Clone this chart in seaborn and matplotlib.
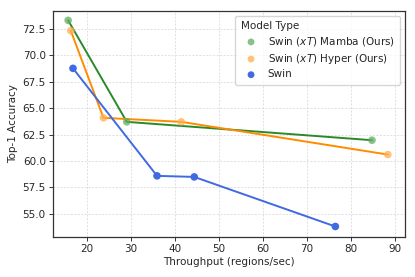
import matplotlib
matplotlib.use("Agg")
import matplotlib.pyplot as plt
import seaborn as sns
import pandas as pd

mamba_x = [15.8, 29.1, 84.7]
mamba_y = [73.32, 63.7, 61.96]
hyper_x = [16.4, 23.8, 41.45, 88.3]
hyper_y = [72.34, 64.08, 63.7, 60.6]
swin_x = [16.9, 35.96, 44.4, 76.4]
swin_y = [68.77, 58.58, 58.48, 53.78]
labels = ["Swin $(xT)$ Mamba (Ours)", "Swin $(xT)$ Hyper (Ours)", "Swin"]

df = pd.DataFrame({
    "x": mamba_x + hyper_x + swin_x,
    "y": mamba_y + hyper_y + swin_y,
    "Model Type": [labels[0]] * len(mamba_x) + [labels[1]] * len(hyper_x) + [labels[2]] * len(swin_x),
})

sns.set_theme(style="ticks")
plt.rcParams["font.family"] = ["DejaVu Sans"]
fig = plt.figure(figsize=(4.15, 2.77), dpi=100)
ax = fig.add_axes([0.127, 0.145, 0.849, 0.815])

line_colors = {labels[0]: "#2a8a2a", labels[1]: "#ff8c00", labels[2]: "#4169e1"}
point_colors = {labels[0]: "#5fae5f", labels[1]: "#ffae4f", labels[2]: "#4169e1"}
alphas = {labels[0]: 0.75, labels[1]: 0.75, labels[2]: 1.0}

for lab in labels:
    sub = df[df["Model Type"] == lab]
    sns.lineplot(data=sub, x="x", y="y", ax=ax, color=line_colors[lab], lw=1.4,
                 sort=False, legend=False, zorder=2)
for lab in labels:
    sub = df[df["Model Type"] == lab]
    sns.scatterplot(data=sub, x="x", y="y", ax=ax, color=point_colors[lab], s=30,
                    alpha=alphas[lab], edgecolor="none", label=lab, zorder=3)

ax.set_xlim(12.3, 92.2)
ax.set_ylim(52.8, 74.2)
ax.set_xticks([20, 30, 40, 50, 60, 70, 80, 90])
ax.set_yticks([55.0, 57.5, 60.0, 62.5, 65.0, 67.5, 70.0, 72.5])
ax.set_yticklabels(["55.0", "57.5", "60.0", "62.5", "65.0", "67.5", "70.0", "72.5"])
ax.grid(True, linestyle=(0, (3, 2)), linewidth=0.5, color="#d5d5d5")
ax.set_axisbelow(True)
for s in ax.spines.values():
    s.set_color("#333333")
    s.set_linewidth(0.9)
ax.tick_params(labelsize=7.5, length=3, width=0.7, color="#333333", pad=2)
ax.set_xlabel("Throughput (regions/sec)", fontsize=7.5, labelpad=2)
ax.set_ylabel("Top-1 Accuracy", fontsize=7.5, labelpad=3)

leg = ax.legend(title="Model Type", loc="upper right", fontsize=7.5, title_fontsize=7.5,
                frameon=True, markerscale=0.9, handletextpad=0.6, borderpad=0.5,
                labelspacing=0.35)
leg._legend_box.align = "left"
leg.get_frame().set_edgecolor("#cccccc")
for h, lab in zip(leg.legend_handles, labels):
    h.set_alpha(alphas[lab])

fig.savefig("out.png", dpi=100)
